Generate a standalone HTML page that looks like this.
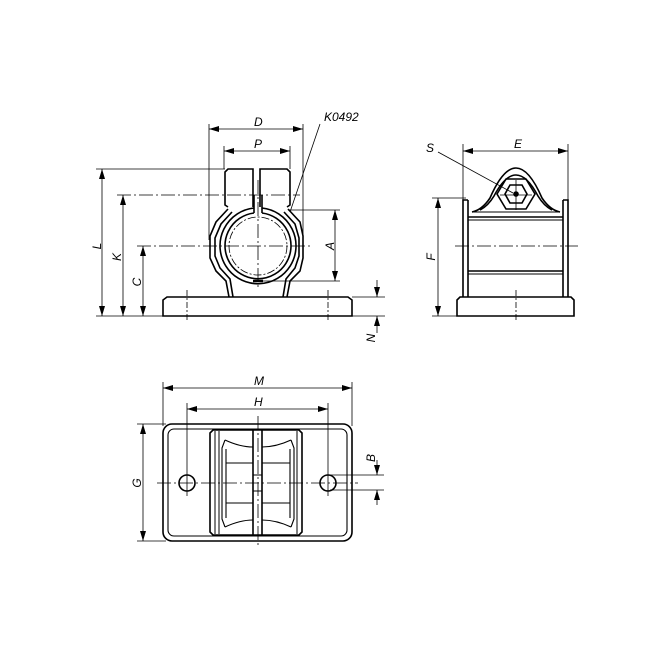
<!DOCTYPE html>
<html><head><meta charset="utf-8"><style>
html,body{margin:0;padding:0;background:#fff;}
svg{display:block;}
text{font-family:"Liberation Sans",sans-serif;font-style:italic;font-size:12px;fill:#000;}
</style></head><body>
<svg width="654" height="654" viewBox="0 0 654 654" xmlns="http://www.w3.org/2000/svg">
<defs>
<marker id="a" viewBox="0 0 10 6" refX="10" refY="3" markerWidth="10" markerHeight="6" orient="auto-start-reverse" markerUnits="userSpaceOnUse"><path d="M0,0 L10,3 L0,6 z" fill="#000"/></marker>
</defs>
<g fill="none" stroke="#000">
<!-- ===== FRONT VIEW ===== -->
<g stroke-width="0.8">
<line x1="209" y1="124" x2="209" y2="240"/>
<line x1="303" y1="124" x2="303" y2="240"/>
<line x1="224" y1="146" x2="224" y2="169"/>
<line x1="290" y1="146" x2="290" y2="169"/>
<line x1="96" y1="169" x2="225" y2="169"/>
<line x1="117" y1="195" x2="300" y2="195" stroke-dasharray="14,3,2,3"/>
<line x1="137" y1="246" x2="310" y2="246" stroke-dasharray="14,3,2,3"/>
<line x1="96" y1="316" x2="385" y2="316"/>
<line x1="352" y1="297" x2="385" y2="297"/>
<line x1="288" y1="210" x2="340" y2="210"/>
<line x1="262" y1="281" x2="340" y2="281"/>
<line x1="258" y1="180" x2="258" y2="290" stroke-dasharray="14,3,2,3"/>
<line x1="187" y1="290" x2="187" y2="322" stroke-dasharray="6,2,2,2"/>
<line x1="328" y1="290" x2="328" y2="322" stroke-dasharray="6,2,2,2"/>
<line x1="209" y1="129" x2="303" y2="129" marker-start="url(#a)" marker-end="url(#a)"/>
<line x1="224" y1="151" x2="290" y2="151" marker-start="url(#a)" marker-end="url(#a)"/>
<line x1="102" y1="169" x2="102" y2="316" marker-start="url(#a)" marker-end="url(#a)"/>
<line x1="123" y1="195" x2="123" y2="316" marker-start="url(#a)" marker-end="url(#a)"/>
<line x1="143" y1="246" x2="143" y2="316" marker-start="url(#a)" marker-end="url(#a)"/>
<line x1="335" y1="210" x2="335" y2="281" marker-start="url(#a)" marker-end="url(#a)"/>
<line x1="377" y1="280" x2="377" y2="297" marker-end="url(#a)"/>
<line x1="377" y1="333" x2="377" y2="316" marker-end="url(#a)"/>
<line x1="320" y1="124" x2="290" y2="212"/>
</g>
<g stroke-width="1.6">
<path d="M163,316 L163,300 L167,297 L348,297 L352,300 L352,316 Z"/>
<path d="M228,207 L225,205 L225,172 L228,169 L253,169 L253,207"/>
<path d="M287,207 L290,205 L290,172 L287,169 L260,169 L260,207"/>
<path d="M228,209 L216,222 L210,236 L210,258 L216,271 L226,281 L229,297"/>
<path d="M288,209 L300,222 L303,236 L303,258 L300,271 L290,281 L287,297"/>
<path d="M232,212 L221,224 L215,238 L215,256 L220,268 L230,279 L233,297"/>
<path d="M284,212 L295,224 L299,238 L299,256 L295,268 L286,279 L283,297"/>
<path d="M254,208 A38,38 0 1,0 262,208"/>
<path d="M254,213 A33,33 0 1,0 262,213"/>
<line x1="254" y1="195" x2="254" y2="213"/>
<line x1="262" y1="195" x2="262" y2="213"/>
<line x1="253" y1="281" x2="263" y2="281" stroke-width="2.5"/>
</g>
<circle cx="258" cy="246" r="29" stroke-width="0.8" stroke-dasharray="8,2,2,2"/>

<!-- ===== SIDE VIEW ===== -->
<g stroke-width="0.8">
<line x1="463" y1="144" x2="463" y2="200"/>
<line x1="568" y1="144" x2="568" y2="200"/>
<line x1="463" y1="151" x2="568" y2="151" marker-start="url(#a)" marker-end="url(#a)"/>
<line x1="432" y1="198" x2="466" y2="198"/>
<line x1="432" y1="316" x2="460" y2="316"/>
<line x1="438" y1="198" x2="438" y2="316" marker-start="url(#a)" marker-end="url(#a)"/>
<line x1="455" y1="246" x2="578" y2="246" stroke-dasharray="14,3,2,3"/>
<line x1="516" y1="290" x2="516" y2="322" stroke-dasharray="6,2,2,2"/>
<line x1="516" y1="180" x2="516" y2="210"/>
<line x1="500" y1="195" x2="532" y2="195"/>
<line x1="438" y1="152" x2="513" y2="193"/>
</g>
<g stroke-width="1.6">
<path d="M463,297 L463,200 L468,200 M568,297 L568,200 L563,200"/>
<line x1="468" y1="200" x2="468" y2="297"/>
<line x1="563" y1="200" x2="563" y2="297"/>
<line x1="472" y1="212" x2="560" y2="212" stroke-width="1"/>
<line x1="468" y1="217" x2="563" y2="217"/>
<line x1="468" y1="220" x2="563" y2="220" stroke-width="0.9"/>
<line x1="468" y1="271" x2="563" y2="271"/>
<line x1="468" y1="274" x2="563" y2="274" stroke-width="0.9"/>
<path d="M457,316 L457,300 L460,297 L571,297 L574,300 L574,316 Z"/>
<path d="M472,212 Q482,210 490,198 Q503,168 516,168 Q529,168 542,198 Q550,210 560,212"/>
<path d="M480,210 Q488,206 494,196 Q505,175 516,175 Q527,175 538,196 Q544,206 552,210"/>
<path d="M497,194 L506,179 L526,179 L535,194 L526,209 L506,209 Z"/>
<path d="M505,194 L510,185 L522,185 L527,194 L522,203 L510,203 Z"/>
<circle cx="516" cy="194" r="2" fill="#000"/>
</g>

<!-- ===== TOP VIEW ===== -->
<g stroke-width="0.8">
<line x1="163" y1="382" x2="163" y2="426"/>
<line x1="352" y1="382" x2="352" y2="426"/>
<line x1="163" y1="388" x2="352" y2="388" marker-start="url(#a)" marker-end="url(#a)"/>
<line x1="187" y1="403" x2="187" y2="496"/>
<line x1="328" y1="403" x2="328" y2="496"/>
<line x1="187" y1="409" x2="328" y2="409" marker-start="url(#a)" marker-end="url(#a)"/>
<line x1="137" y1="424" x2="166" y2="424"/>
<line x1="137" y1="541" x2="166" y2="541"/>
<line x1="143" y1="424" x2="143" y2="541" marker-start="url(#a)" marker-end="url(#a)"/>
<line x1="157" y1="483" x2="358" y2="483" stroke-dasharray="14,3,2,3"/>
<line x1="258" y1="416" x2="258" y2="548" stroke-dasharray="14,3,2,3"/>
<line x1="330" y1="475" x2="384" y2="475"/>
<line x1="330" y1="490" x2="384" y2="490"/>
<line x1="377" y1="460" x2="377" y2="475" marker-end="url(#a)"/>
<line x1="377" y1="505" x2="377" y2="490" marker-end="url(#a)"/>
</g>
<g stroke-width="1.6">
<rect x="163" y="424" width="189" height="117" rx="9"/>
<rect x="168" y="429" width="179" height="107" rx="6" stroke-width="1.1"/>
<circle cx="187" cy="483" r="8"/>
<circle cx="328" cy="483" r="8"/>
<path d="M213,430 L299,430 L302,433 L302,532 L299,535 L213,535 L210,532 L210,433 Z"/>
<line x1="215" y1="431" x2="215" y2="534" stroke-width="1"/>
<line x1="219" y1="431" x2="219" y2="534" stroke-width="1"/>
<line x1="297" y1="431" x2="297" y2="534" stroke-width="1"/>
<line x1="253" y1="430" x2="253" y2="535"/>
<line x1="262" y1="430" x2="262" y2="535"/>
<line x1="253" y1="475" x2="262" y2="475" stroke-width="1"/>
<line x1="253" y1="491" x2="262" y2="491" stroke-width="1"/>
</g>
<g stroke-width="1.1">
<path d="M225,440 Q240,447 253,447"/><path d="M291,440 Q276,447 262,447"/>
<path d="M225,527 Q240,520 253,520"/><path d="M291,527 Q276,520 262,520"/>
<path d="M225,440 L222,448 L222,519 L225,527"/>
<path d="M291,440 L294,448 L294,519 L291,527"/>
<line x1="226" y1="449" x2="226" y2="518"/>
<line x1="290" y1="449" x2="290" y2="518"/>
<line x1="226" y1="463" x2="253" y2="463"/><line x1="262" y1="463" x2="290" y2="463"/>
<line x1="226" y1="503" x2="253" y2="503"/><line x1="262" y1="503" x2="290" y2="503"/>
</g>
</g>
<text x="254" y="126">D</text>
<text x="254" y="148">P</text>
<text x="324" y="121">K0492</text>
<text x="97" y="246" transform="rotate(-90 97 246)" text-anchor="middle" dy="4">L</text>
<text x="117" y="257" transform="rotate(-90 117 257)" text-anchor="middle" dy="4">K</text>
<text x="137" y="282" transform="rotate(-90 137 282)" text-anchor="middle" dy="4">C</text>
<text x="330" y="246" transform="rotate(-90 330 246)" text-anchor="middle" dy="4">A</text>
<text x="371" y="338" transform="rotate(-90 371 338)" text-anchor="middle" dy="4">N</text>
<text x="514" y="148">E</text>
<text x="426" y="152">S</text>
<text x="431" y="257" transform="rotate(-90 431 257)" text-anchor="middle" dy="4">F</text>
<text x="254" y="385">M</text>
<text x="254" y="406">H</text>
<text x="137" y="483" transform="rotate(-90 137 483)" text-anchor="middle" dy="4">G</text>
<text x="371" y="458" transform="rotate(-90 371 458)" text-anchor="middle" dy="4">B</text>
</svg>
</body></html>
